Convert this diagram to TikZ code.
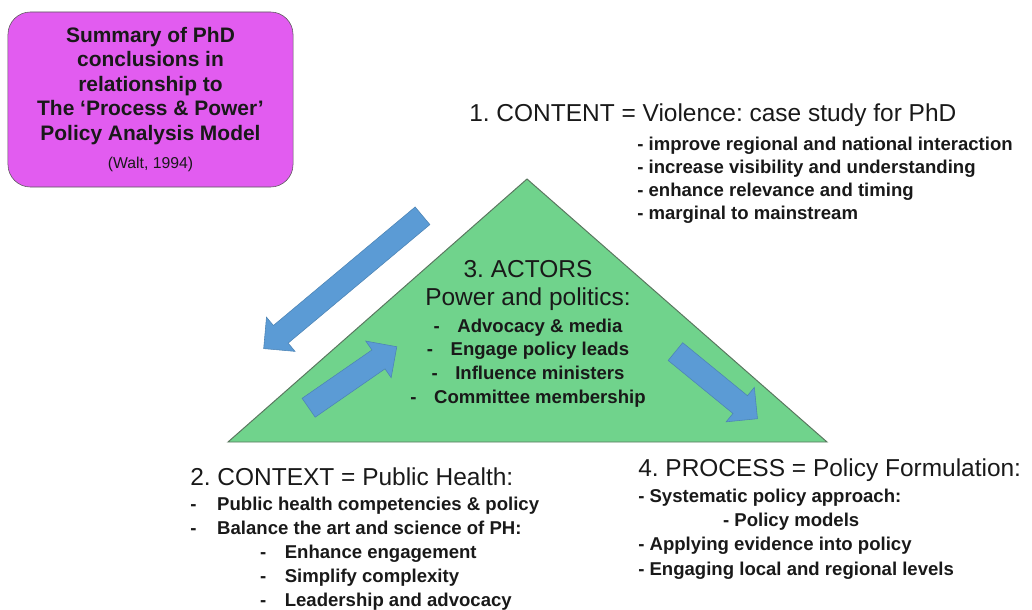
\documentclass[tikz,border=0pt]{standalone}
\usepackage{fontspec}
\setmainfont{Liberation Sans}
\frenchspacing
\usetikzlibrary{shapes.arrows}

\definecolor{summarypink}{RGB}{226,92,240}
\definecolor{actorsgreen}{RGB}{112,211,140}
\definecolor{actorsedge}{RGB}{90,118,95}
\definecolor{flowblue}{RGB}{91,155,213}
\definecolor{textdark}{RGB}{25,25,25}

\begin{document}
\begin{tikzpicture}[
  x=0.025cm, y=-0.025cm,
  text=textdark,
  % Block styles
  summarybox/.style={draw=black!65, fill=summarypink, rounded corners=16pt, minimum width=7.125cm, minimum height=4.375cm, align=center, inner sep=0pt, font=\fontsize{14.9}{17.4}\selectfont\bfseries},
  heading/.style={anchor=base west, inner sep=0pt, font=\fontsize{17.4}{19.9}\selectfont},
  bullets/.style={anchor=base west, inner sep=0pt, align=left, font=\fontsize{13.2}{17}\selectfont\bfseries},
  actorsface/.style={draw=actorsedge, fill=actorsgreen, line width=0.7pt},
  % Block arrows
  flowarrow/.style={single arrow, draw=flowblue!85!black, fill=flowblue, line width=0.4pt, inner xsep=0pt, inner ysep=0.28cm, single arrow head extend=0.27cm}
]
  \useasboundingbox (0,0) rectangle (1032,610);

  % ==========================================
  % TITLE BOX
  % ==========================================
  \node[summarybox] (summary) at (150.5,99.5) {
    Summary of PhD\\
    conclusions in\\
    relationship to\\
    The `Process \& Power'\\
    Policy Analysis Model\\[3pt]
    {\mdseries\fontsize{11.2}{13}\selectfont (Walt, 1994)}
  };

  % ==========================================
  % TRIANGLE (ACTORS)
  % ==========================================
  \coordinate (apex) at (527,179);
  \coordinate (base_left) at (228,442);
  \coordinate (base_right) at (827,442);
  \draw[actorsface] (base_left) -- (apex) -- (base_right) -- cycle;

  % multi-line nodes sit on the baseline of their last line
  \node[anchor=base, align=center, inner sep=0pt, font=\fontsize{17.4}{19.9}\selectfont] (actors_title) at (528,305) {
    3. ACTORS\\
    Power and politics:
  };
  \node[anchor=base, align=center, inner sep=0pt, font=\fontsize{13.2}{16.8}\selectfont\bfseries] (actors_list) at (528,403) {
    -\hspace{0.95em}Advocacy \& media\\
    -\hspace{0.95em}Engage policy leads\\
    -\hspace{0.95em}Influence ministers\\
    -\hspace{0.95em}Committee membership
  };

  % ==========================================
  % BLOCK ARROWS
  % ==========================================
  \node[flowarrow, minimum height=5.175cm, rotate=219.9] (arrow_content) at (347.5,278.5) {};
  \node[flowarrow, minimum height=2.68cm, rotate=34.7] (arrow_context) at (348,380.5) {};
  \node[flowarrow, minimum height=2.65cm, rotate=-39.3] (arrow_process) at (712,381.5) {};

  % ==========================================
  % CONTENT, CONTEXT, PROCESS
  % ==========================================
  \node[heading] (content_title) at (469,122) {1. CONTENT = Violence: case study for PhD};
  \node[bullets, font=\fontsize{13.2}{16.4}\selectfont\bfseries] (content_list) at (637,220) {
    - improve regional and national interaction\\
    - increase visibility and understanding\\
    - enhance relevance and timing\\
    - marginal to mainstream
  };

  \node[heading] (context_title) at (190,485) {2. CONTEXT = Public Health:};
  \node[bullets] (context_list) at (190,606) {
    -\hspace*{1.12em}Public health competencies \& policy\\
    -\hspace*{1.12em}Balance the art and science of PH:\\
    \hspace*{3.76em}-\hspace*{1em}Enhance engagement\\
    \hspace*{3.76em}-\hspace*{1em}Simplify complexity\\
    \hspace*{3.76em}-\hspace*{1em}Leadership and advocacy
  };

  \node[heading] (process_title) at (638,476) {4. PROCESS = Policy Formulation:};
  \node[bullets, font=\fontsize{13.2}{17.3}\selectfont\bfseries] (process_list) at (638,575) {
    - Systematic policy approach:\\
    \hspace*{4.57em}- Policy models\\
    - Applying evidence into policy\\
    - Engaging local and regional levels
  };
\end{tikzpicture}
\end{document}
